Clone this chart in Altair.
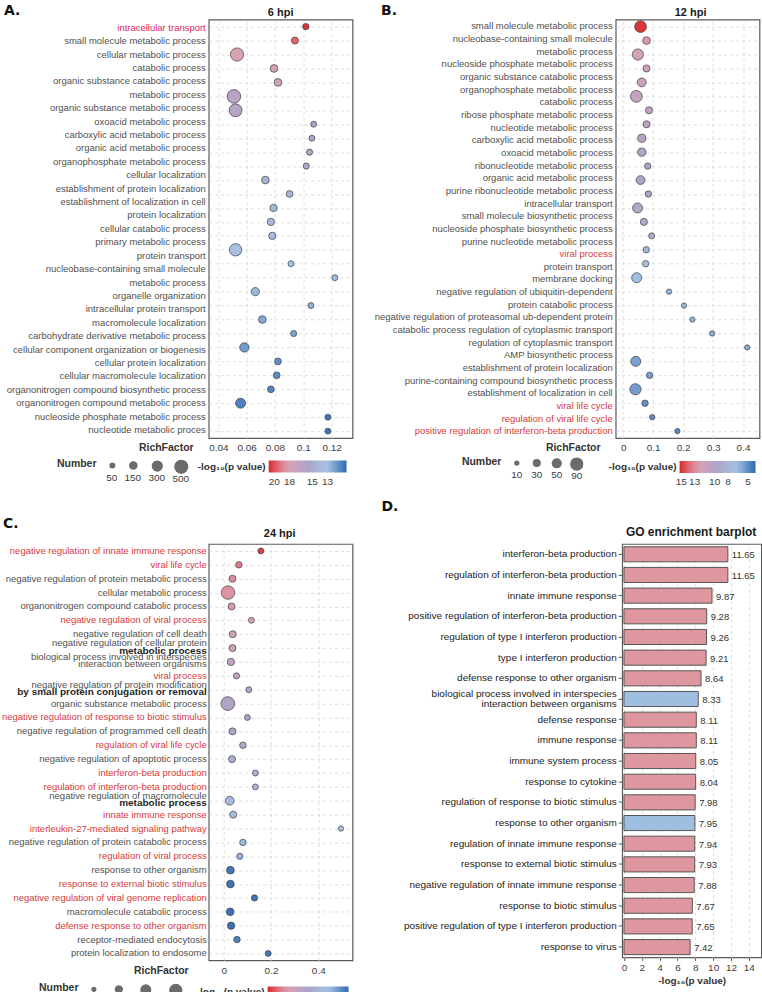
import altair as alt
import pandas as pd

# ------------------------------------------------------------------
# 6 hpi bubble panel
# ------------------------------------------------------------------
a_terms = [
    "intracellular transport",
    "small molecule metabolic process",
    "cellular metabolic process",
    "catabolic process",
    "organic substance catabolic process",
    "metabolic process",
    "organic substance metabolic process",
    "oxoacid metabolic process",
    "carboxylic acid metabolic process",
    "organic acid metabolic process",
    "organophosphate metabolic process",
    "cellular localization",
    "establishment of protein localization",
    "establishment of localization in cell",
    "protein localization",
    "cellular catabolic process",
    "primary metabolic process",
    "protein transport",
    "nucleobase-containing small molecule\nmetabolic process",
    "organelle organization",
    "intracellular protein transport",
    "macromolecule localization",
    "carbohydrate derivative metabolic process",
    "cellular component organization or biogenesis",
    "cellular protein localization",
    "cellular macromolecule localization",
    "organonitrogen compound biosynthetic process",
    "organonitrogen compound metabolic process",
    "nucleoside phosphate metabolic process",
    "nucleotide metabolic proces",
]
a_rich = [0.1018, 0.0941, 0.0532, 0.0793, 0.0821, 0.0510, 0.0522, 0.1073, 0.1061, 0.1044,
          0.1021, 0.0732, 0.0903, 0.0790, 0.0771, 0.0781, 0.0522, 0.0913, 0.1223, 0.0661,
          0.1054, 0.0711, 0.0932, 0.0584, 0.0821, 0.0812, 0.0771, 0.0557, 0.1174, 0.1174]
a_count = [66, 91, 434, 116, 116, 454, 410, 52, 52, 59,
           59, 116, 80, 100, 100, 100, 372, 52, 52, 140,
           52, 116, 59, 196, 80, 80, 80, 225, 52, 52]
a_logp = [20.5, 19.6, 18.2, 17.8, 17.5, 16.4, 16.2, 15.5, 15.4, 15.2,
          15.0, 14.4, 14.2, 14.0, 13.9, 13.8, 13.2, 13.0, 12.9, 12.7,
          12.5, 12.3, 12.1, 11.9, 11.6, 11.5, 11.3, 11.2, 10.9, 10.8]
a_highlight = ["intracellular transport"]
a_rich_ticks = [0.04, 0.06, 0.08, 0.10, 0.12]
a_count_ticks = [50, 150, 300, 500]
a_logp_ticks = [20, 18, 15, 13]

# ------------------------------------------------------------------
# 12 hpi bubble panel
# ------------------------------------------------------------------
b_terms = [
    "small molecule metabolic process",
    "nucleobase-containing small molecule\nmetabolic process",
    "nucleoside phosphate metabolic process",
    "organic substance catabolic process",
    "organophosphate metabolic process",
    "catabolic process",
    "ribose phosphate metabolic process",
    "nucleotide metabolic process",
    "carboxylic acid metabolic process",
    "oxoacid metabolic process",
    "ribonucleotide metabolic process",
    "organic acid metabolic process",
    "purine ribonucleotide metabolic process",
    "intracellular transport",
    "small molecule biosynthetic process",
    "nucleoside phosphate biosynthetic process",
    "purine nucleotide metabolic process",
    "viral process",
    "protein transport",
    "membrane docking",
    "negative regulation of ubiquitin-dependent\nprotein catabolic process",
    "negative regulation of proteasomal ub-dependent protein\ncatabolic process regulation of cytoplasmic transport",
    "regulation of cytoplasmic transport",
    "AMP biosynthetic process",
    "establishment of protein localization",
    "purine-containing compound biosynthetic process",
    "establishment of localization in cell",
    "viral life cycle",
    "regulation of viral life cycle",
    "positive regulation of interferon-beta production",
]
b_rich = [0.058, 0.078, 0.049, 0.078, 0.062, 0.044, 0.086, 0.078, 0.062, 0.062,
          0.082, 0.058, 0.084, 0.048, 0.069, 0.095, 0.077, 0.075, 0.045, 0.153,
          0.203, 0.231, 0.297, 0.414, 0.042, 0.088, 0.041, 0.073, 0.097, 0.181]
b_count = [70, 27, 63, 22, 37, 70, 22, 22, 31, 31,
           17, 37, 17, 49, 22, 14, 17, 17, 49, 10,
           10, 10, 10, 10, 49, 17, 63, 17, 10, 10]
b_logp = [15.0, 12.6, 11.8, 11.6, 11.4, 11.1, 10.8, 10.6, 10.3, 10.1,
          9.9, 9.7, 9.4, 9.0, 8.7, 8.4, 8.1, 7.2, 6.6, 6.4,
          6.3, 6.2, 6.1, 6.0, 5.7, 5.6, 5.5, 5.1, 5.0, 4.8]
b_highlight = ["viral process", "viral life cycle", "regulation of viral life cycle",
               "positive regulation of interferon-beta production"]
b_rich_ticks = [0, 0.1, 0.2, 0.3, 0.4]
b_count_ticks = [10, 30, 50, 90]
b_logp_ticks = [15, 13, 10, 8, 5]

# ------------------------------------------------------------------
# 24 hpi bubble panel
# ------------------------------------------------------------------
c_terms = [
    "negative regulation of innate immune response",
    "viral life cycle",
    "negative regulation of protein metabolic process",
    "cellular metabolic process",
    "organonitrogen compound catabolic process",
    "negative regulation of viral process",
    "negative regulation of cell death",
    "negative regulation of cellular protein\nmetabolic process",
    "biological process involved in interspecies\ninteraction between organisms",
    "viral process",
    "negative regulation of protein modification\nby small protein conjugation or removal",
    "organic substance metabolic process",
    "negative regulation of response to biotic stimulus",
    "negative regulation of programmed cell death",
    "regulation of viral life cycle",
    "negative regulation of apoptotic process",
    "interferon-beta production",
    "regulation of interferon-beta production",
    "negative regulation of macromolecule\nmetabolic process",
    "innate immune response",
    "interleukin-27-mediated signaling pathway",
    "negative regulation of protein catabolic process",
    "regulation of viral process",
    "response to other organism",
    "response to external biotic stimulus",
    "negative regulation of viral genome replication",
    "macromolecule catabolic process",
    "defense response to other organism",
    "receptor-mediated endocytosis",
    "protein localization to endosome",
]
c_rich = [0.157, 0.064, 0.037, 0.018, 0.033, 0.117, 0.038, 0.037, 0.030, 0.054,
          0.106, 0.017, 0.100, 0.037, 0.081, 0.035, 0.134, 0.134, 0.025, 0.040,
          0.496, 0.081, 0.068, 0.028, 0.028, 0.130, 0.027, 0.031, 0.056, 0.188]
c_count = [18, 25, 32, 157, 32, 18, 32, 32, 36, 22,
           18, 163, 18, 32, 25, 32, 18, 18, 59, 32,
           12, 25, 22, 41, 41, 22, 41, 36, 25, 18]
c_logp = [6.3, 5.95, 5.85, 5.8, 5.75, 5.6, 5.5, 5.45, 5.35, 5.3,
          5.2, 5.1, 5.0, 4.95, 4.8, 4.7, 4.6, 4.55, 4.5, 4.45,
          4.4, 4.25, 4.2, 3.72, 3.71, 3.70, 3.69, 3.68, 3.8, 3.75]
c_highlight = [
    "negative regulation of innate immune response", "viral life cycle",
    "negative regulation of viral process", "viral process",
    "negative regulation of response to biotic stimulus", "regulation of viral life cycle",
    "interferon-beta production", "regulation of interferon-beta production",
    "innate immune response", "interleukin-27-mediated signaling pathway",
    "regulation of viral process", "response to external biotic stimulus",
    "negative regulation of viral genome replication", "defense response to other organism",
]
c_bold_tail = [
    "negative regulation of cellular protein\nmetabolic process",
    "negative regulation of protein modification\nby small protein conjugation or removal",
    "negative regulation of macromolecule\nmetabolic process",
]
c_rich_ticks = [0, 0.2, 0.4]
c_count_ticks = [10, 50, 100, 150]
c_logp_ticks = [6, 5, 4]

# ------------------------------------------------------------------
# GO enrichment barplot
# ------------------------------------------------------------------
d_terms = [
    "interferon-beta production",
    "regulation of interferon-beta production",
    "innate immune response",
    "positive regulation of interferon-beta production",
    "regulation of type I interferon production",
    "type I interferon production",
    "defense response to other organism",
    "biological process involved in interspecies\ninteraction between organisms",
    "defense response",
    "immune response",
    "immune system process",
    "response to cytokine",
    "regulation of response to biotic stimulus",
    "response to other organism",
    "regulation of innate immune response",
    "response to external biotic stimulus",
    "negative regulation of innate immune response",
    "response to biotic stimulus",
    "positive regulation of type I interferon production",
    "response to virus",
]
d_scores = [11.65, 11.65, 9.87, 9.28, 9.26, 9.21, 8.64, 8.33, 8.11, 8.11,
            8.05, 8.04, 7.98, 7.95, 7.94, 7.93, 7.88, 7.67, 7.65, 7.42]
d_organism_terms = [
    "biological process involved in interspecies\ninteraction between organisms",
    "response to other organism",
]
d_ticks = [0, 2, 4, 6, 8, 10, 12, 14]

# ------------------------------------------------------------------
# styling
# ------------------------------------------------------------------
FONT = "Liberation Sans"
NARROW = "Liberation Sans Narrow, Arial Narrow, Liberation Sans"
GRID = "#d6d6d6"
FRAME = "#5a5a5a"
TERM_TEXT = "#505050"
AXIS_TEXT = "#3c3c3c"
PALETTE = ["#d42a2a", "#d8a3b0", "#a9a5c6", "#a6c3e5", "#2c6aae"]
LOGP_TITLE = "-log\u2081\u2080(p value)"


def colour_stops(hi, lo):
    step = (hi - lo) / (len(PALETTE) - 1)
    return [round(hi - k * step, 4) for k in range(len(PALETTE))]


def letter_layer(letter, dx, dy):
    return alt.Chart(pd.DataFrame({"tag": [letter]})).mark_text(
        align="left", baseline="top", font="DejaVu Sans", fontWeight="bold",
        fontSize=14, color="#111111",
    ).encode(text="tag:N", x=alt.value(dx), y=alt.value(dy))


def heading_layer(text, cx, cy, size):
    return alt.Chart(pd.DataFrame({"head": [text]})).mark_text(
        align="center", baseline="middle", font=FONT, fontWeight="bold",
        fontSize=size, color="#1a1a1a",
    ).encode(text="head:N", x=alt.value(cx), y=alt.value(cy))


def top_margin(dy):
    # transparent point that fixes how far a panel's bounds reach above its frame,
    # so panels in the same row sit at the intended heights
    return alt.Chart(pd.DataFrame({"m": [0]})).mark_point(opacity=0, size=1).encode(
        x=alt.value(0), y=alt.value(dy))


def stacked_labels(terms, highlight, hl_color, pad):
    rows = []
    for term in terms:
        for part in term.split("\n"):
            rows.append({"line": len(rows), "text": part, "hl": term in highlight})
    return alt.Chart(pd.DataFrame(rows)).mark_text(
        align="right", baseline="middle", fontSize=9.5, font=FONT,
    ).encode(
        x=alt.value(-3),
        y=alt.Y("line:O", scale=alt.Scale(type="point", padding=pad), axis=None),
        text="text:N",
        color=alt.condition("datum.hl", alt.value(hl_color), alt.value(TERM_TEXT)),
    )


def inline_labels(terms, highlight, hl_color, strong, y_enc):
    rows = pd.DataFrame({
        "idx": list(range(len(terms))),
        "first": [t.split("\n")[0] for t in terms],
        "second": [t.split("\n")[1] if "\n" in t else "" for t in terms],
        "hl": [t in highlight for t in terms],
        "strong": [t in strong for t in terms],
    })
    base = alt.Chart(rows).encode(x=alt.value(-2), y=y_enc)
    colour = alt.condition("datum.hl", alt.value(hl_color), alt.value(TERM_TEXT))
    txt = dict(align="right", baseline="middle", fontSize=9.5, font=FONT)
    single = base.transform_filter("datum.second == ''").mark_text(**txt).encode(
        text="first:N", color=colour)
    upper = base.transform_filter("datum.second != ''").mark_text(dy=-5, **txt).encode(
        text="first:N", color=colour)
    lower = base.transform_filter("datum.second != '' && !datum.strong").mark_text(
        dy=2.5, **txt).encode(text="second:N", color=colour)
    lower_bold = base.transform_filter("datum.strong").mark_text(
        align="right", baseline="middle", fontSize=10, font=FONT, fontWeight="bold",
        color="#1e1e1e", dy=2.5).encode(text="second:N")
    return [single, upper, lower, lower_bold]


def bubble_panel(terms, rich, count, logp, highlight, rich_ticks, count_ticks, logp_ticks, s):
    dots = pd.DataFrame({
        "idx": list(range(len(terms))), "term": terms,
        "rich": rich, "count": count, "logp": logp,
    })
    y_enc = alt.Y(
        "idx:O", scale=alt.Scale(type="point", padding=0.5),
        axis=alt.Axis(labels=False, ticks=False, domain=False, grid=True,
                      gridDash=[3, 3], gridColor=GRID, gridWidth=0.8, title=None),
    )
    x_enc = alt.X(
        "rich:Q", scale=alt.Scale(domain=s["x_domain"], nice=False, zero=False),
        axis=alt.Axis(
            values=rich_ticks, format=s["x_format"], grid=True, gridDash=[3, 3],
            gridColor=GRID, gridWidth=0.8, ticks=False, domain=False,
            labelFontSize=10, labelColor=AXIS_TEXT, labelPadding=s["label_pad"],
            title="RichFactor", titleX=s["rf_x"], titleY=s["rf_y"], titleAlign="center",
            titleBaseline="middle", titleFont=s["rf_font"], titleFontSize=10.5,
            titleFontWeight="bold", titleColor="#333333",
        ),
    )
    size_enc = alt.Size(
        "count:Q",
        scale=alt.Scale(domain=[count_ticks[0], count_ticks[-1]], range=s["size_range"],
                        zero=False, nice=False),
        legend=alt.Legend(
            title="Number", orient="none", legendX=s["num_xy"][0], legendY=s["num_xy"][1],
            direction="horizontal", columns=len(count_ticks), values=count_ticks,
            titleOrient="left", titleAnchor="start", titleBaseline="top",
            titleFontSize=10.5, titleFontWeight="bold",
            titleColor="#333333", titlePadding=s["num_title_pad"],
            symbolType="circle", symbolFillColor="#6b6b6b", symbolStrokeWidth=0,
            symbolOpacity=1, labelAlign="center", labelBaseline="middle",
            labelOffset={"expr": str(s["num_label_off"])}, labelExpr="['', '', datum.label]",
            labelFontSize=10, labelColor=AXIS_TEXT,
            columnPadding=s["num_col_pad"],
        ),
    )
    colour_enc = alt.Color(
        "logp:Q",
        scale=alt.Scale(domain=colour_stops(*s["p_domain"]), range=PALETTE,
                        nice=False, zero=False, clamp=True),
        legend=alt.Legend(
            title=LOGP_TITLE, orient="none", legendX=s["p_xy"][0], legendY=s["p_xy"][1],
            direction="horizontal", values=logp_ticks, gradientLength=s["grad_len"],
            gradientThickness=12, gradientStrokeWidth=0, titleOrient="left",
            titleFontSize=10, titleFontWeight="bold", titleColor="#333333",
            titlePadding=2, labelFontSize=10, labelColor=AXIS_TEXT, labelOffset=4,
            labelOverlap=False,
        ),
    )
    points = alt.Chart(dots).mark_circle(opacity=1, stroke="#404040", strokeWidth=0.7).encode(
        x=x_enc, y=y_enc, size=size_enc, color=colour_enc)

    if s["stacked"]:
        labels = [stacked_labels(terms, highlight, s["hl"], s["label_scale_pad"])]
    else:
        labels = inline_labels(terms, highlight, s["hl"], s["strong"], y_enc)

    extras = [letter_layer(s["letter"], *s["letter_xy"]), heading_layer(s["title"], *s["title_xy"], 11)]
    if "margin" in s:
        extras.append(top_margin(s["margin"]))
    layered = alt.layer(points, *labels, *extras)
    if s["stacked"]:
        layered = layered.resolve_scale(y="independent")
    return layered.properties(width=144, height=s["height"])


panel_a = bubble_panel(
    a_terms, a_rich, a_count, a_logp, a_highlight, a_rich_ticks, a_count_ticks, a_logp_ticks,
    dict(x_domain=[0.0332, 0.1348], x_format=".2~f", label_pad=4, rf_x=-43, rf_y=9.5,
         rf_font=NARROW, size_range=[35, 201], num_xy=[-152, 440], num_title_pad=8,
         num_label_off=-8, num_col_pad=6, p_domain=(20.73, 10.5), p_xy=[-11, 441.5],
         grad_len=78, stacked=True, hl="#e0245a", label_scale_pad=0.6, letter="A.",
         letter_xy=(-205, -16), height=419, title="6 hpi", title_xy=(72, -6.5)),
)

panel_b = bubble_panel(
    b_terms, b_rich, b_count, b_logp, b_highlight, b_rich_ticks, b_count_ticks, b_logp_ticks,
    dict(x_domain=[-0.025, 0.455], x_format=".1~f", label_pad=4, rf_x=-43, rf_y=9.5,
         rf_font=NARROW, size_range=[28, 177], num_xy=[-154, 438], num_title_pad=8,
         num_label_off=-7, num_col_pad=7, p_domain=(15.25, 3.88), p_xy=[-7, 442],
         grad_len=76, stacked=True, hl="#d63a3a", label_scale_pad=0.53, letter="B.",
         letter_xy=(-235, -16), height=419, title="12 hpi", title_xy=(75, -6.5)),
)

panel_c = bubble_panel(
    c_terms, c_rich, c_count, c_logp, c_highlight, c_rich_ticks, c_count_ticks, c_logp_ticks,
    dict(x_domain=[-0.0636, 0.545], x_format=".1~f", label_pad=5, rf_x=-48, rf_y=10,
         rf_font=FONT, size_range=[26, 176], num_xy=[-170, 440], num_title_pad=8,
         num_label_off=-7, num_col_pad=12, p_domain=(6.4, 3.62), p_xy=[-12, 443],
         grad_len=81, stacked=False, hl="#d63a3a", strong=c_bold_tail, letter="C.",
         letter_xy=(-206, -27), height=417, title="24 hpi", title_xy=(71, -10),
         margin=-45),
)

# ---- GO enrichment barplot ----
d_df = pd.DataFrame({
    "term": d_terms,
    "score": d_scores,
    "organism": [t in d_organism_terms for t in d_terms],
})
d_y = alt.Y(
    "term:N", sort=d_terms, scale=alt.Scale(paddingInner=0.27, paddingOuter=0.135),
    axis=alt.Axis(
        title=None, labelExpr="split(datum.label, '\\n')", labelFontSize=10,
        labelColor="#222222", labelLimit=400, labelPadding=2, labelLineHeight=11,
        labelOffset={"condition": {"test": "indexof(datum.value, '\\n') >= 0", "value": -5.5},
                     "value": 0},
        ticks=True, tickSize=4, tickColor=FRAME, tickWidth=1, domain=False, grid=False,
    ),
)
d_x = alt.X(
    "score:Q", scale=alt.Scale(domain=[-0.2, 15.4], nice=False, zero=False),
    axis=alt.Axis(values=d_ticks, grid=True, gridDash=[3, 3], gridColor=GRID, gridWidth=0.8,
                  ticks=True, tickSize=3, tickColor=FRAME, domain=False, labelFontSize=10,
                  labelColor=AXIS_TEXT, labelPadding=2, title=LOGP_TITLE, titleFontSize=10,
                  titleFontWeight="bold", titleColor="#333333", titlePadding=3),
)
d_bars = alt.Chart(d_df).mark_bar(stroke="#555555", strokeWidth=1).encode(
    y=d_y, x=d_x,
    color=alt.condition("datum.organism", alt.value("#9ebfe0"), alt.value("#de979e")),
)
d_values = alt.Chart(d_df).mark_text(
    align="left", baseline="middle", dx=4, dy=1, fontSize=9.5, font=FONT, color="#333333",
).encode(y=d_y, x=d_x, text=alt.Text("score:Q", format=".2f"))

panel_d = alt.layer(
    d_bars, d_values,
    letter_layer("D.", -241, -44),
    heading_layer("GO enrichment barplot", 69, -11.5, 12),
    top_margin(-61.6),
).properties(width=139.3, height=414)

# Panels are placed on their outer bounds; the panel letters sit at the
# top-left corner of each panel, so they anchor the layout.
top_row = alt.hconcat(panel_a, panel_b, spacing=19.5).resolve_scale(
    color="independent", size="independent")
bottom_row = alt.concat(panel_c, panel_d, columns=2, spacing=27, align="none").resolve_scale(
    color="independent", size="independent")

chart = alt.vconcat(top_row, bottom_row, spacing=-16).resolve_scale(
    color="independent", size="independent"
).properties(
    padding={"left": 0, "top": 2, "right": 0, "bottom": 0},
).configure(
    font=FONT,
).configure_view(
    stroke=FRAME, strokeWidth=1.2,
).configure_axis(
    labelFont=FONT, titleFont=FONT,
).configure_legend(
    labelFont=FONT, titleFont=FONT,
)

chart.save("out.html", embed_options={"renderer": "svg", "actions": False})
